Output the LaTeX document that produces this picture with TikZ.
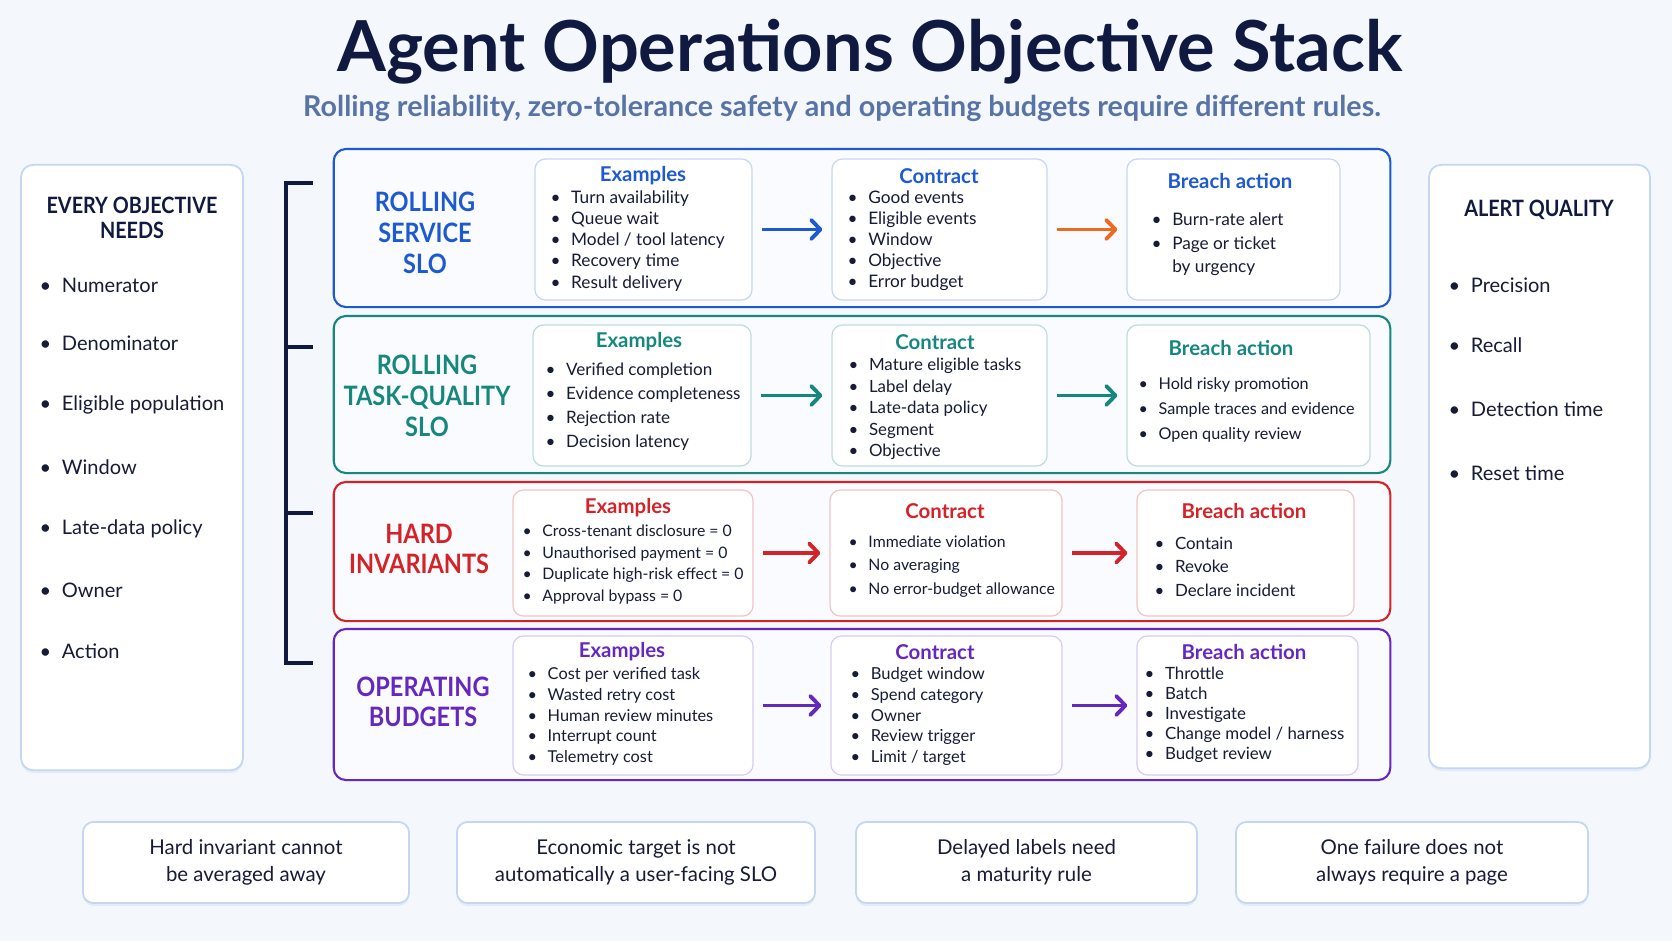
\documentclass[tikz,border=0pt]{standalone}
\usepackage{fontspec}
\setmainfont{Lato}
\newfontfamily\condfont[FakeStretch=0.88]{Lato}
\usepackage{xcolor}
\usetikzlibrary{positioning,shadows,arrows.meta}

\definecolor{navy}{HTML}{101A40}
\definecolor{itemtext}{HTML}{161B36}
\definecolor{pagebg}{HTML}{F4F7FC}
\definecolor{subtl}{HTML}{5873A6}
\definecolor{panelline}{HTML}{C5D6F0}
\definecolor{rsblue}{HTML}{1D5AD2}
\definecolor{rqteal}{HTML}{15877F}
\definecolor{hired}{HTML}{D42229}
\definecolor{obpurple}{HTML}{6528BF}
\definecolor{burnorange}{HTML}{EB6A22}
\definecolor{rsline}{HTML}{C6D7F2}
\definecolor{rqline}{HTML}{BEDDDA}
\definecolor{hiline}{HTML}{F4C4C5}
\definecolor{obline}{HTML}{D8CCF0}

\newcommand{\itm}{\textbullet\hspace{3pt}}
\newcommand{\itmgap}{\hphantom{\textbullet}\hspace{3pt}}

\tikzset{
  panel/.style={draw=panelline, line width=0.5pt, rounded corners=3.5pt, fill=white,
    drop shadow={shadow xshift=0pt, shadow yshift=-0.8pt, opacity=0.35, fill=panelline}},
  panelhead/.style={font=\condfont\bfseries\fontsize{6.4}{7.1}\selectfont, text=navy, align=center},
  sideitem/.style={anchor=west, inner sep=0pt, font=\fontsize{5.7}{7}\selectfont, text=itemtext},
  rowbox/.style={draw=#1, line width=0.6pt, rounded corners=3.5pt, fill=white!55!pagebg,
    minimum width=10.56cm},
  rowlabel/.style={font=\condfont\bfseries\fontsize{7.6}{8.8}\selectfont, text=#1, align=center},
  card/.style={draw=#1, line width=0.35pt, rounded corners=3pt, fill=white},
  head/.style={font=\bfseries\fontsize{5.8}{7}\selectfont, text=#1},
  items/.style 2 args={anchor=west, align=left, inner sep=0pt, text=itemtext,
    font=\fontsize{#1}{#2}\selectfont},
  arr/.style={draw=#1, line width=1.1pt, -{Straight Barb[length=2.6pt,width=5.4pt,round]},
    shorten <=0.09cm, shorten >=0.09cm},
  note/.style={draw=panelline, line width=0.5pt, rounded corners=3pt, fill=white,
    drop shadow={shadow xshift=0pt, shadow yshift=-0.8pt, opacity=0.35, fill=panelline},
    align=center, text=itemtext, font=\fontsize{5.8}{7.7}\selectfont, minimum height=0.81cm}
}

\begin{document}
\begin{tikzpicture}[x=0.01cm, y=-0.01cm]
  \fill[pagebg] (0,0) rectangle (1672,941);
  \useasboundingbox (0,0) rectangle (1672,941);

  % title
  \node[font=\bfseries\fontsize{20}{24}\selectfont, text=navy, anchor=base] (title) at (870,71)
    {Agent Operations Objective Stack};
  \node[font=\bfseries\fontsize{8.15}{9}\selectfont, text=subtl, anchor=base] (subtitle) at (842,116)
    {Rolling reliability, zero-tolerance safety and operating budgets require different rules.};

  % side panels
  \node[panel, minimum width=2.22cm, minimum height=6.05cm] (needs) at (132,467.5) {};
  \node[panelhead] (needsh) at (132,218) {EVERY OBJECTIVE\\NEEDS};
  \foreach \y/\t in {285/Numerator, 343/Denominator, 405/Eligible population, 467/Window,
                     529/Late-data policy, 590/Owner, 651/Action}
    \node[sideitem] (nd\y) at (39,\y) {\textbullet\hspace{3pt}\t};

  \node[panel, minimum width=2.21cm, minimum height=6.03cm] (alerts) at (1539.5,466.5) {};
  \node[panelhead] (alertsh) at (1539,210) {ALERT QUALITY};
  \foreach \y/\t in {285/Precision, 345/Recall, 409/Detection time, 473/Reset time}
    \node[sideitem] (aq\y) at (1448,\y) {\textbullet\hspace{3pt}\t};

  % bracket
  \coordinate (brtop) at (286,183);
  \coordinate (brbot) at (286,663);
  \draw[navy, line width=0.9pt] (313,183) -- (brtop) -- (brbot) -- (313,663);
  \foreach \y in {347,513}
    \draw[navy, line width=0.9pt] (286,\y) -- (313,\y);

  % rows
  \node[rowbox=rsblue, minimum height=1.58cm] (rs) at (862,228) {};
  \node[rowbox=rqteal, minimum height=1.57cm] (rq) at (862,394.5) {};
  \node[rowbox=hired, minimum height=1.39cm] (hi) at (862,551.5) {};
  \node[rowbox=obpurple, minimum height=1.51cm] (ob) at (862,704.5) {};

  \node[rowlabel=rsblue] (rsl) at (425,233) {ROLLING\\SERVICE\\SLO};
  \node[rowlabel=rqteal] (rql) at (427,396) {ROLLING\\TASK-QUALITY\\SLO};
  \node[rowlabel=hired, font=\condfont\bfseries\fontsize{7.6}{8.5}\selectfont] (hil) at (419,549) {HARD\\INVARIANTS};
  \node[rowlabel=obpurple, font=\condfont\bfseries\fontsize{7.6}{8.5}\selectfont] (obl) at (423,702) {OPERATING\\BUDGETS};

  % rolling service slo
  \node[card=rsline, minimum width=2.17cm, minimum height=1.41cm] (rsex) at (643.5,229.5) {};
  \node[card=rsline, minimum width=2.15cm, minimum height=1.41cm] (rsct) at (939.5,229.5) {};
  \node[card=rsline, minimum width=2.13cm, minimum height=1.41cm] (rsba) at (1233.5,229.5) {};
  \node[head=rsblue] (rsexh) at (643,176) {Examples};
  \node[head=rsblue] (rscth) at (939,176) {Contract};
  \node[head=rsblue] (rsbah) at (1230,181) {Breach action};
  \node[items={4.9pt}{6pt}] (rsexl) at (550,241) {\itm Turn availability\\ \itm Queue wait\\
    \itm Model / tool latency\\ \itm Recovery time\\ \itm Result delivery};
  \node[items={4.9pt}{6pt}] (rsctl) at (847,241) {\itm Good events\\ \itm Eligible events\\
    \itm Window\\ \itm Objective\\ \itm Error budget};
  \node[items={4.9pt}{6.7pt}] (rsbal) at (1151,244.5) {\itm Burn-rate alert\\ \itm Page or ticket\\
    \itmgap by urgency};
  \draw[arr=rsblue] (rsex) -- (rsct);
  \draw[arr=burnorange] (rsct) -- (rsba);

  % rolling task-quality slo
  \node[card=rqline, minimum width=2.18cm, minimum height=1.41cm] (rqex) at (642,395.5) {};
  \node[card=rqline, minimum width=2.15cm, minimum height=1.41cm] (rqct) at (939.5,395.5) {};
  \node[card=rqline, minimum width=2.43cm, minimum height=1.41cm] (rqba) at (1248.5,395.5) {};
  \node[head=rqteal] (rqexh) at (639,342) {Examples};
  \node[head=rqteal] (rqcth) at (935,342) {Contract};
  \node[head=rqteal] (rqbah) at (1231,348) {Breach action};
  \node[items={4.85pt}{6.8pt}] (rqexl) at (545,407) {\itm Verified completion\\ \itm Evidence completeness\\
    \itm Rejection rate\\ \itm Decision latency};
  \node[items={4.8pt}{6.1pt}] (rqctl) at (848,409) {\itm Mature eligible tasks\\ \itm Label delay\\
    \itm Late-data policy\\ \itm Segment\\ \itm Objective};
  \node[items={4.6pt}{7pt}] (rqbal) at (1138,410) {\itm Hold risky promotion\\
    \itm Sample traces and evidence\\ \itm Open quality review};
  \draw[arr=rqteal] (rqex) -- (rqct);
  \draw[arr=rqteal] (rqct) -- (rqba);

  % hard invariants
  \node[card=hiline, minimum width=2.40cm, minimum height=1.26cm] (hiex) at (633,553) {};
  \node[card=hiline, minimum width=2.32cm, minimum height=1.26cm] (hict) at (946,553) {};
  \node[card=hiline, minimum width=2.17cm, minimum height=1.26cm] (hiba) at (1245.5,553) {};
  \node[head=hired] (hiexh) at (628,508) {Examples};
  \node[head=hired] (hicth) at (945,511) {Contract};
  \node[head=hired] (hibah) at (1244,511) {Breach action};
  \node[items={4.5pt}{6.2pt}] (hiexl) at (522,564.5) {\itm Cross-tenant disclosure = 0\\
    \itm Unauthorised payment = 0\\ \itm Duplicate high-risk effect = 0\\ \itm Approval bypass = 0};
  \node[items={4.5pt}{6.7pt}] (hictl) at (848,566.5) {\itm Immediate violation\\ \itm No averaging\\
    \itm No error-budget allowance};
  \node[items={4.8pt}{6.7pt}] (hibal) at (1154,566.5) {\itm Contain\\ \itm Revoke\\ \itm Declare incident};
  \draw[arr=hired] (hiex) -- (hict);
  \draw[arr=hired] (hict) -- (hiba);

  % operating budgets
  \node[card=obline, minimum width=2.40cm, minimum height=1.39cm] (obex) at (633,705.5) {};
  \node[card=obline, minimum width=2.31cm, minimum height=1.39cm] (obct) at (946.5,705.5) {};
  \node[card=obline, minimum width=2.21cm, minimum height=1.39cm] (obba) at (1247.5,705.5) {};
  \node[head=obpurple] (obexh) at (622,652) {Examples};
  \node[head=obpurple] (obcth) at (935,652) {Contract};
  \node[head=obpurple] (obbah) at (1244,652) {Breach action};
  \node[items={4.65pt}{5.9pt}] (obexl) at (527,716.5) {\itm Cost per verified task\\ \itm Wasted retry cost\\
    \itm Human review minutes\\ \itm Interrupt count\\ \itm Telemetry cost};
  \node[items={4.7pt}{5.9pt}] (obctl) at (850,716.5) {\itm Budget window\\ \itm Spend category\\
    \itm Owner\\ \itm Review trigger\\ \itm Limit / target};
  \node[items={4.8pt}{5.7pt}] (obbal) at (1144,715) {\itm Throttle\\ \itm Batch\\ \itm Investigate\\
    \itm Change model / harness\\ \itm Budget review};
  \draw[arr=obpurple] (obex) -- (obct);
  \draw[arr=obpurple] (obct) -- (obba);

  % notes
  \node[note, minimum width=3.26cm] (nt1) at (246,862.5) {Hard invariant cannot\\be averaged away};
  \node[note, minimum width=3.58cm] (nt2) at (636,862.5) {Economic target is not\\automatically a user-facing SLO};
  \node[note, minimum width=3.41cm] (nt3) at (1026.5,862.5) {Delayed labels need\\a maturity rule};
  \node[note, minimum width=3.52cm] (nt4) at (1412,862.5) {One failure does not\\always require a page};
\end{tikzpicture}
\end{document}
